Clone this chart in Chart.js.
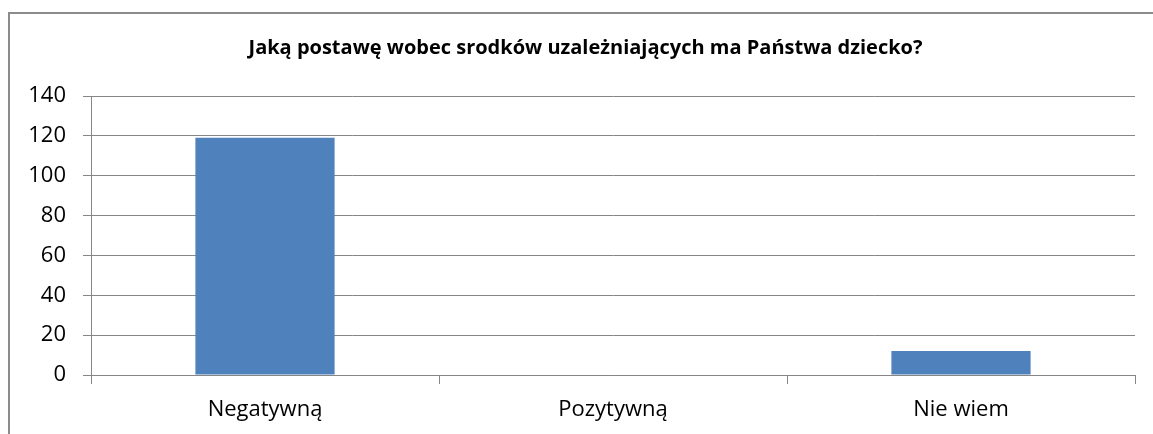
<!DOCTYPE html>
<html>
<head>
<meta charset="utf-8">
<script src="https://cdn.jsdelivr.net/npm/chart.js@4/dist/chart.umd.min.js"></script>
<style>
  html, body { margin: 0; padding: 0; background: #fff; }
  canvas { display: block; }
</style>
</head>
<body>
<canvas id="myChart" width="1153" height="434"></canvas>
<script>
const chartTitle = 'Jaką postawę wobec srodków uzależniających ma Państwa dziecko?';
const categories = ['Negatywną', 'Pozytywną', 'Nie wiem'];
const answers = [119, 0, 12];
const yMin = 0;
const yMax = 140;
const yStep = 20;

const axisGray = '#868686';
const fontFamily = '"Open Sans", "Noto Sans", sans-serif';

// grey frame around the chart (only top and left edges are in view)
// and a small nudge of the title, which sits right of the canvas centre
const frame = {
	id: 'frame',
	afterLayout(chart) {
		chart.titleBlock.left += 18;
		chart.titleBlock.right += 18;
	},
	beforeDraw(chart) {
		const ctx = chart.ctx;
		ctx.save();
		ctx.fillStyle = '#fff';
		ctx.fillRect(0, 0, chart.width, chart.height);
		ctx.strokeStyle = '#8c8c8c';
		ctx.lineWidth = 2;
		ctx.beginPath();
		ctx.moveTo(9, chart.height);
		ctx.lineTo(9, 13);
		ctx.lineTo(chart.width, 13);
		ctx.stroke();
		ctx.restore();
	}
};

const ctx = document.getElementById('myChart').getContext('2d');
new Chart(ctx, {
	type: 'bar',
	data: {
		labels: categories,
		datasets: [{
			data: answers,
			backgroundColor: '#4F81BD',
			borderWidth: 0,
			barPercentage: 0.4,
			categoryPercentage: 1.0
		}]
	},
	options: {
		responsive: false,
		animation: false,
		layout: {
			padding: { left: 0, right: 18, top: 0, bottom: 0 }
		},
		plugins: {
			legend: { display: false },
			tooltip: { enabled: false },
			title: {
				display: true,
				text: chartTitle,
				color: '#000',
				font: { family: fontFamily, size: 20, weight: 'bold' },
				padding: { top: 36, bottom: 36 }
			}
		},
		scales: {
			x: {
				grid: {
					offset: true,
					drawOnChartArea: false,
					color: axisGray,
					tickLength: 9
				},
				border: { color: axisGray, width: 1 },
				ticks: {
					color: '#000',
					padding: 13,
					font: { family: fontFamily, size: 22 }
				},
				afterFit(scale) { scale.height = 59; }
			},
			y: {
				min: yMin,
				max: yMax,
				grid: {
					color: axisGray,
					tickLength: 8
				},
				border: { color: axisGray, width: 1 },
				ticks: {
					stepSize: yStep,
					color: '#000',
					padding: 17,
					font: { family: fontFamily, size: 22 }
				},
				afterFit(scale) { scale.width = 91; }
			}
		}
	},
	plugins: [frame]
});
</script>
</body>
</html>
